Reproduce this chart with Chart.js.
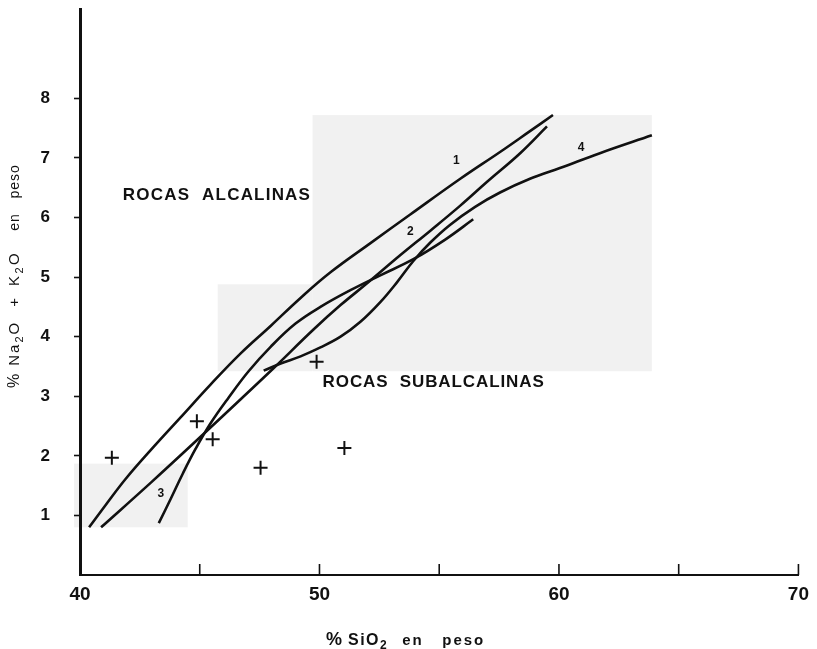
<!DOCTYPE html>
<html><head><meta charset="utf-8">
<script src="https://cdn.jsdelivr.net/npm/chart.js@4/dist/chart.umd.min.js"></script>
<style>html,body{margin:0;padding:0;background:#fff;}#wrap{width:817px;height:649px;}</style>
</head><body><div id="wrap"><canvas id="c" width="817" height="649"></canvas></div>
<script>
// ---- data (SiO2 wt%, Na2O+K2O wt%) ----
const xTickValues = [40, 45, 50, 55, 60, 65, 70];
const xTickLabels = ['40', '', '50', '', '60', '', '70'];
const yTickValues = [1, 2, 3, 4, 5, 6, 7, 8];
const yTickLabels = ['1', '2', '3', '4', '5', '6', '7', '8'];

const curve1 = [[40.38,0.80],[41.08,1.18],[41.92,1.62],[42.96,2.10],[44.21,2.65],[45.46,3.20],[46.71,3.72],[47.96,4.18],[49.21,4.65],[50.46,5.08],[52.13,5.57],[53.79,6.05],[55.88,6.65],[57.54,7.10],[58.79,7.45],[59.75,7.72]];
const curve2 = [[40.88,0.80],[42.96,1.55],[45.17,2.37],[46.71,2.95],[48.08,3.47],[49.75,4.12],[50.88,4.53],[52.00,4.90],[53.38,5.37],[54.63,5.78],[55.88,6.20],[57.00,6.60],[58.38,7.08],[59.50,7.53]];
const curve3 = [[43.29,0.87],[43.79,1.28],[44.29,1.70],[44.83,2.12],[45.46,2.55],[46.21,2.98],[47.04,3.42],[47.96,3.83],[49.00,4.22],[50.04,4.50],[51.29,4.78],[52.54,5.03],[53.92,5.30],[55.25,5.63],[56.42,5.97]];
const curve4 = [[47.67,3.43],[48.38,3.55],[49.21,3.67],[50.04,3.82],[50.88,4.00],[51.71,4.25],[52.54,4.58],[53.25,4.92],[53.92,5.27],[54.63,5.58],[55.46,5.88],[56.50,6.18],[57.54,6.42],[58.79,6.65],[60.04,6.83],[61.71,7.08],[63.88,7.38]];
const samplesSiO2 = [41.33, 44.88, 45.54, 47.54, 49.88, 51.04];
const samplesAlk  = [1.97, 2.58, 2.28, 1.80, 3.58, 2.13];

const curveNames = ['1', '2', '3', '4'];
const regionNames = ['ROCAS ALCALINAS', 'ROCAS SUBALCALINAS'];

// ---- layout / decoration config ----
const curveLabelPos = [[55.71,6.95],[53.79,5.77],[43.38,1.37],[60.92,7.17]];
const regionLabelPos = [[41.79,6.38],[50.13,3.23]];
const shadeBoxes = [[49.71,63.88,3.42,7.72],[45.75,49.71,3.42,4.88],[39.75,44.5,0.80,1.87]];

const toPts = arr => arr.map(p => ({x: p[0], y: p[1]}));
const lineDs = (arr) => ({data: toPts(arr), showLine: true, pointRadius: 0, borderColor: '#111', borderWidth: 2.6, tension: 0.4, fill: false});

function drawRich(ctx, parts, x, y, size, spacing, weight) {
  let cx = x;
  parts.forEach(([t, sub]) => {
    const fs = sub ? Math.round(size * 0.72) : size;
    ctx.font = (weight || 'bold') + ' ' + fs + 'px "Liberation Sans", Arial, sans-serif';
    ctx.letterSpacing = spacing + 'px';
    ctx.fillText(t, cx, sub ? y + size * 0.28 : y);
    cx += ctx.measureText(t).width;
  });
  return cx - x;
}

const decor = {
  id: 'decor',
  beforeDraw(chart) {
    const {ctx, scales: {x, y}} = chart;
    ctx.save();
    ctx.fillStyle = 'rgba(0,0,0,0.055)';
    shadeBoxes.forEach(b => {
      const x0 = x.getPixelForValue(b[0]), x1 = x.getPixelForValue(b[1]);
      const y0 = y.getPixelForValue(b[3]), y1 = y.getPixelForValue(b[2]);
      ctx.fillRect(x0, y0, x1 - x0, y1 - y0);
    });
    ctx.restore();
  },
  afterDraw(chart) {
    const {ctx, scales: {x, y}, chartArea} = chart;
    ctx.save();
    ctx.strokeStyle = '#111';
    ctx.lineWidth = 1.6;
    xTickValues.forEach(v => {
      const px = x.getPixelForValue(v);
      ctx.beginPath(); ctx.moveTo(px, chartArea.bottom); ctx.lineTo(px, chartArea.bottom - 11); ctx.stroke();
    });
    ctx.fillStyle = '#111';
    ctx.textBaseline = 'middle';
    ctx.textAlign = 'left';
    regionNames.forEach((t, i) => {
      ctx.font = 'bold 17px "Liberation Sans", Arial, sans-serif';
      ctx.letterSpacing = i === 0 ? '1.2px' : '0.9px';
      ctx.fillText(t.replace(' ', '  '), x.getPixelForValue(regionLabelPos[i][0]), y.getPixelForValue(regionLabelPos[i][1]));
    });
    ctx.textAlign = 'center';
    ctx.letterSpacing = '0px';
    ctx.font = 'bold 12px "Liberation Sans", Arial, sans-serif';
    curveNames.forEach((t, i) => {
      ctx.fillText(t, x.getPixelForValue(curveLabelPos[i][0]), y.getPixelForValue(curveLabelPos[i][1]));
    });
    // x axis title
    ctx.textAlign = 'left';
    ctx.textBaseline = 'alphabetic';
    let cx = 326;
    cx += drawRich(ctx, [['%', false]], cx, 645, 18, 0) + 6;
    cx += drawRich(ctx, [['SiO', false], ['2', true]], cx, 645, 16, 1.5) + 14;
    ctx.font = 'bold 15px "Liberation Sans", Arial, sans-serif';
    ctx.letterSpacing = '2px';
    ctx.fillText('en   peso', cx, 645);
    // y axis title (rotated)
    ctx.translate(19, 388);
    ctx.rotate(-Math.PI / 2);
    let w = 0;
    w += drawRich(ctx, [['%', false]], 0, 0, 16, 0, 'normal') + 8;
    w += drawRich(ctx, [['Na', false], ['2', true], ['O', false]], w, 0, 15, 2, 'normal') + 14;
    w += drawRich(ctx, [['+', false]], w, 0, 15, 0, 'normal') + 12;
    w += drawRich(ctx, [['K', false], ['2', true], ['O', false]], w, 0, 15, 2.5, 'normal') + 20;
    ctx.font = '14px "Liberation Sans", Arial, sans-serif';
    ctx.letterSpacing = '1px';
    ctx.fillText('en   peso', w, 0);
    ctx.restore();
  }
};

new Chart(document.getElementById('c'), {
  type: 'scatter',
  data: {
    datasets: [
      lineDs(curve1), lineDs(curve2), lineDs(curve3), lineDs(curve4),
      {data: samplesSiO2.map((v, i) => ({x: v, y: samplesAlk[i]})), showLine: false, pointStyle: 'cross', pointRadius: 7, borderWidth: 2, borderColor: '#111', backgroundColor: '#111'}
    ]
  },
  options: {
    responsive: false,
    animation: false,
    devicePixelRatio: 1,
    layout: {padding: {top: 5, right: 18, left: 0, bottom: 0}},
    plugins: {legend: {display: false}, tooltip: {enabled: false}, title: {display: false}},
    scales: {
      x: {
        type: 'linear', min: 40, max: 70,
        afterBuildTicks: s => { s.ticks = xTickValues.map(v => ({value: v})); },
        afterFit: s => { s.height = 74; s.paddingTop = 0; s.paddingBottom = 0; },
        ticks: {autoSkip: false, maxRotation: 0, padding: 8, color: '#111',
          font: {family: '"Liberation Sans", Arial, sans-serif', size: 19, weight: 'bold'},
          callback: (v) => xTickLabels[xTickValues.indexOf(v)] ?? ''},
        grid: {drawOnChartArea: false, drawTicks: false},
        border: {color: '#111', width: 2}
      },
      y: {
        type: 'linear', min: 0, max: 9.5,
        afterBuildTicks: s => { s.ticks = yTickValues.map(v => ({value: v})); },
        afterFit: s => { s.width = 80; s.paddingTop = 0; s.paddingBottom = 0; },
        ticks: {autoSkip: false, padding: 24, color: '#111',
          font: {family: '"Liberation Sans", Arial, sans-serif', size: 17, weight: 'bold'},
          callback: (v) => yTickLabels[yTickValues.indexOf(v)] ?? ''},
        grid: {drawOnChartArea: false, drawTicks: true, tickLength: 6, tickWidth: 1.6, tickColor: '#111'},
        border: {color: '#111', width: 3}
      }
    }
  },
  plugins: [decor]
});
</script>
</body></html>
